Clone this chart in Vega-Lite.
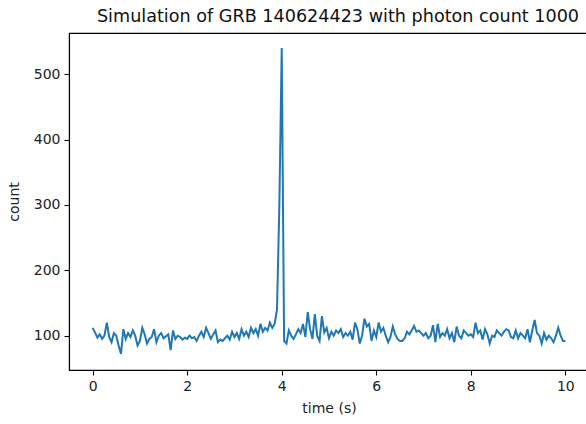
{
  "$schema": "https://vega.github.io/schema/vega-lite/v6.json",
  "width": 520,
  "height": 337,
  "autosize": {"type": "none"},
  "padding": {"left": 69, "top": 33, "right": 0, "bottom": 54},
  "title": {
    "text": "Simulation of GRB 140624423 with photon count 1000",
    "font": "DejaVu Sans",
    "fontSize": 17.6,
    "fontWeight": "normal",
    "color": "#111",
    "anchor": "middle",
    "offset": 7,
    "dx": 9
  },
  "config": {
    "view": {"stroke": "#000", "strokeWidth": 1.1},
    "axis": {
      "labelFont": "DejaVu Sans",
      "labelFontSize": 14,
      "labelColor": "#222",
      "titleFont": "DejaVu Sans",
      "titleFontSize": 14,
      "titleFontWeight": "normal",
      "titleColor": "#222",
      "domainColor": "#000",
      "domainWidth": 1.1,
      "tickColor": "#000",
      "tickWidth": 1.1,
      "tickSize": 5,
      "labelPadding": 4,
      "grid": false
    }
  },
  "data": {
    "values": [
      {"t": 0.0, "c": 112}, {"t": 0.05, "c": 105}, {"t": 0.1, "c": 97}, {"t": 0.15, "c": 102}, {"t": 0.2, "c": 95},
      {"t": 0.25, "c": 100}, {"t": 0.3, "c": 120}, {"t": 0.35, "c": 98}, {"t": 0.4, "c": 90}, {"t": 0.45, "c": 104},
      {"t": 0.5, "c": 100}, {"t": 0.55, "c": 85}, {"t": 0.6, "c": 72}, {"t": 0.65, "c": 110}, {"t": 0.7, "c": 95},
      {"t": 0.75, "c": 104}, {"t": 0.8, "c": 98}, {"t": 0.85, "c": 108}, {"t": 0.9, "c": 100}, {"t": 0.95, "c": 85},
      {"t": 1.0, "c": 92}, {"t": 1.05, "c": 112}, {"t": 1.1, "c": 102}, {"t": 1.15, "c": 88}, {"t": 1.2, "c": 95},
      {"t": 1.25, "c": 98}, {"t": 1.3, "c": 110}, {"t": 1.35, "c": 90}, {"t": 1.4, "c": 100}, {"t": 1.45, "c": 104},
      {"t": 1.5, "c": 96}, {"t": 1.55, "c": 99}, {"t": 1.6, "c": 102}, {"t": 1.65, "c": 78}, {"t": 1.7, "c": 108},
      {"t": 1.75, "c": 95}, {"t": 1.8, "c": 100}, {"t": 1.85, "c": 98}, {"t": 1.9, "c": 94}, {"t": 1.95, "c": 97},
      {"t": 2.0, "c": 95}, {"t": 2.05, "c": 100}, {"t": 2.1, "c": 96}, {"t": 2.15, "c": 98}, {"t": 2.2, "c": 92},
      {"t": 2.25, "c": 100}, {"t": 2.3, "c": 106}, {"t": 2.35, "c": 98}, {"t": 2.4, "c": 112}, {"t": 2.45, "c": 104},
      {"t": 2.5, "c": 95}, {"t": 2.55, "c": 102}, {"t": 2.6, "c": 108}, {"t": 2.65, "c": 90}, {"t": 2.7, "c": 94},
      {"t": 2.75, "c": 92}, {"t": 2.8, "c": 96}, {"t": 2.85, "c": 100}, {"t": 2.9, "c": 94}, {"t": 2.95, "c": 106},
      {"t": 3.0, "c": 98}, {"t": 3.05, "c": 104}, {"t": 3.1, "c": 95}, {"t": 3.15, "c": 110}, {"t": 3.2, "c": 100},
      {"t": 3.25, "c": 106}, {"t": 3.3, "c": 98}, {"t": 3.35, "c": 112}, {"t": 3.4, "c": 104}, {"t": 3.45, "c": 110},
      {"t": 3.5, "c": 100}, {"t": 3.55, "c": 118}, {"t": 3.6, "c": 106}, {"t": 3.65, "c": 112}, {"t": 3.7, "c": 108},
      {"t": 3.75, "c": 120}, {"t": 3.8, "c": 112}, {"t": 3.85, "c": 118}, {"t": 3.9, "c": 140}, {"t": 3.95, "c": 300},
      {"t": 4.0, "c": 540}, {"t": 4.05, "c": 92}, {"t": 4.1, "c": 88}, {"t": 4.15, "c": 108}, {"t": 4.2, "c": 100},
      {"t": 4.25, "c": 95}, {"t": 4.3, "c": 102}, {"t": 4.35, "c": 110}, {"t": 4.4, "c": 104}, {"t": 4.45, "c": 118},
      {"t": 4.5, "c": 98}, {"t": 4.55, "c": 136}, {"t": 4.6, "c": 110}, {"t": 4.65, "c": 95}, {"t": 4.7, "c": 133},
      {"t": 4.75, "c": 100}, {"t": 4.8, "c": 92}, {"t": 4.85, "c": 130}, {"t": 4.9, "c": 105}, {"t": 4.95, "c": 112},
      {"t": 5.0, "c": 96}, {"t": 5.05, "c": 106}, {"t": 5.1, "c": 100}, {"t": 5.15, "c": 108}, {"t": 5.2, "c": 104},
      {"t": 5.25, "c": 110}, {"t": 5.3, "c": 98}, {"t": 5.35, "c": 104}, {"t": 5.4, "c": 100}, {"t": 5.45, "c": 106},
      {"t": 5.5, "c": 94}, {"t": 5.55, "c": 120}, {"t": 5.6, "c": 110}, {"t": 5.65, "c": 88}, {"t": 5.7, "c": 100},
      {"t": 5.75, "c": 126}, {"t": 5.8, "c": 114}, {"t": 5.85, "c": 118}, {"t": 5.9, "c": 92}, {"t": 5.95, "c": 108},
      {"t": 6.0, "c": 98}, {"t": 6.05, "c": 120}, {"t": 6.1, "c": 106}, {"t": 6.15, "c": 112}, {"t": 6.2, "c": 100},
      {"t": 6.25, "c": 90}, {"t": 6.3, "c": 98}, {"t": 6.35, "c": 114}, {"t": 6.4, "c": 102}, {"t": 6.45, "c": 95},
      {"t": 6.5, "c": 92}, {"t": 6.55, "c": 92}, {"t": 6.6, "c": 96}, {"t": 6.65, "c": 106}, {"t": 6.7, "c": 102},
      {"t": 6.75, "c": 108}, {"t": 6.8, "c": 115}, {"t": 6.85, "c": 106}, {"t": 6.9, "c": 108}, {"t": 6.95, "c": 104},
      {"t": 7.0, "c": 100}, {"t": 7.05, "c": 104}, {"t": 7.1, "c": 96}, {"t": 7.15, "c": 100}, {"t": 7.2, "c": 116},
      {"t": 7.25, "c": 90}, {"t": 7.3, "c": 118}, {"t": 7.35, "c": 98}, {"t": 7.4, "c": 104}, {"t": 7.45, "c": 100},
      {"t": 7.5, "c": 110}, {"t": 7.55, "c": 96}, {"t": 7.6, "c": 104}, {"t": 7.65, "c": 90}, {"t": 7.7, "c": 114},
      {"t": 7.75, "c": 100}, {"t": 7.8, "c": 96}, {"t": 7.85, "c": 108}, {"t": 7.9, "c": 104}, {"t": 7.95, "c": 100},
      {"t": 8.0, "c": 102}, {"t": 8.05, "c": 98}, {"t": 8.1, "c": 120}, {"t": 8.15, "c": 104}, {"t": 8.2, "c": 108},
      {"t": 8.25, "c": 94}, {"t": 8.3, "c": 110}, {"t": 8.35, "c": 102}, {"t": 8.4, "c": 88}, {"t": 8.45, "c": 100},
      {"t": 8.5, "c": 98}, {"t": 8.55, "c": 108}, {"t": 8.6, "c": 104}, {"t": 8.65, "c": 100}, {"t": 8.7, "c": 106},
      {"t": 8.75, "c": 110}, {"t": 8.8, "c": 108}, {"t": 8.85, "c": 98}, {"t": 8.9, "c": 96}, {"t": 8.95, "c": 108},
      {"t": 9.0, "c": 96}, {"t": 9.05, "c": 104}, {"t": 9.1, "c": 100}, {"t": 9.15, "c": 96}, {"t": 9.2, "c": 110},
      {"t": 9.25, "c": 90}, {"t": 9.3, "c": 108}, {"t": 9.35, "c": 124}, {"t": 9.4, "c": 104}, {"t": 9.45, "c": 100},
      {"t": 9.5, "c": 88}, {"t": 9.55, "c": 104}, {"t": 9.6, "c": 94}, {"t": 9.65, "c": 100}, {"t": 9.7, "c": 96},
      {"t": 9.75, "c": 90}, {"t": 9.8, "c": 100}, {"t": 9.85, "c": 112}, {"t": 9.9, "c": 100}, {"t": 9.95, "c": 92},
      {"t": 10.0, "c": 92}
    ]
  },
  "mark": {"type": "line", "color": "#1f77b4", "strokeWidth": 2, "clip": true},
  "encoding": {
    "x": {
      "field": "t",
      "type": "quantitative",
      "title": "time (s)",
      "scale": {"domain": [-0.5, 10.5], "nice": false, "zero": false},
      "axis": {"values": [0, 2, 4, 6, 8, 10], "titlePadding": 8}
    },
    "y": {
      "field": "c",
      "type": "quantitative",
      "title": "count",
      "scale": {"domain": [47.5, 563], "nice": false, "zero": false},
      "axis": {"values": [100, 200, 300, 400, 500], "titlePadding": 12}
    }
  }
}
